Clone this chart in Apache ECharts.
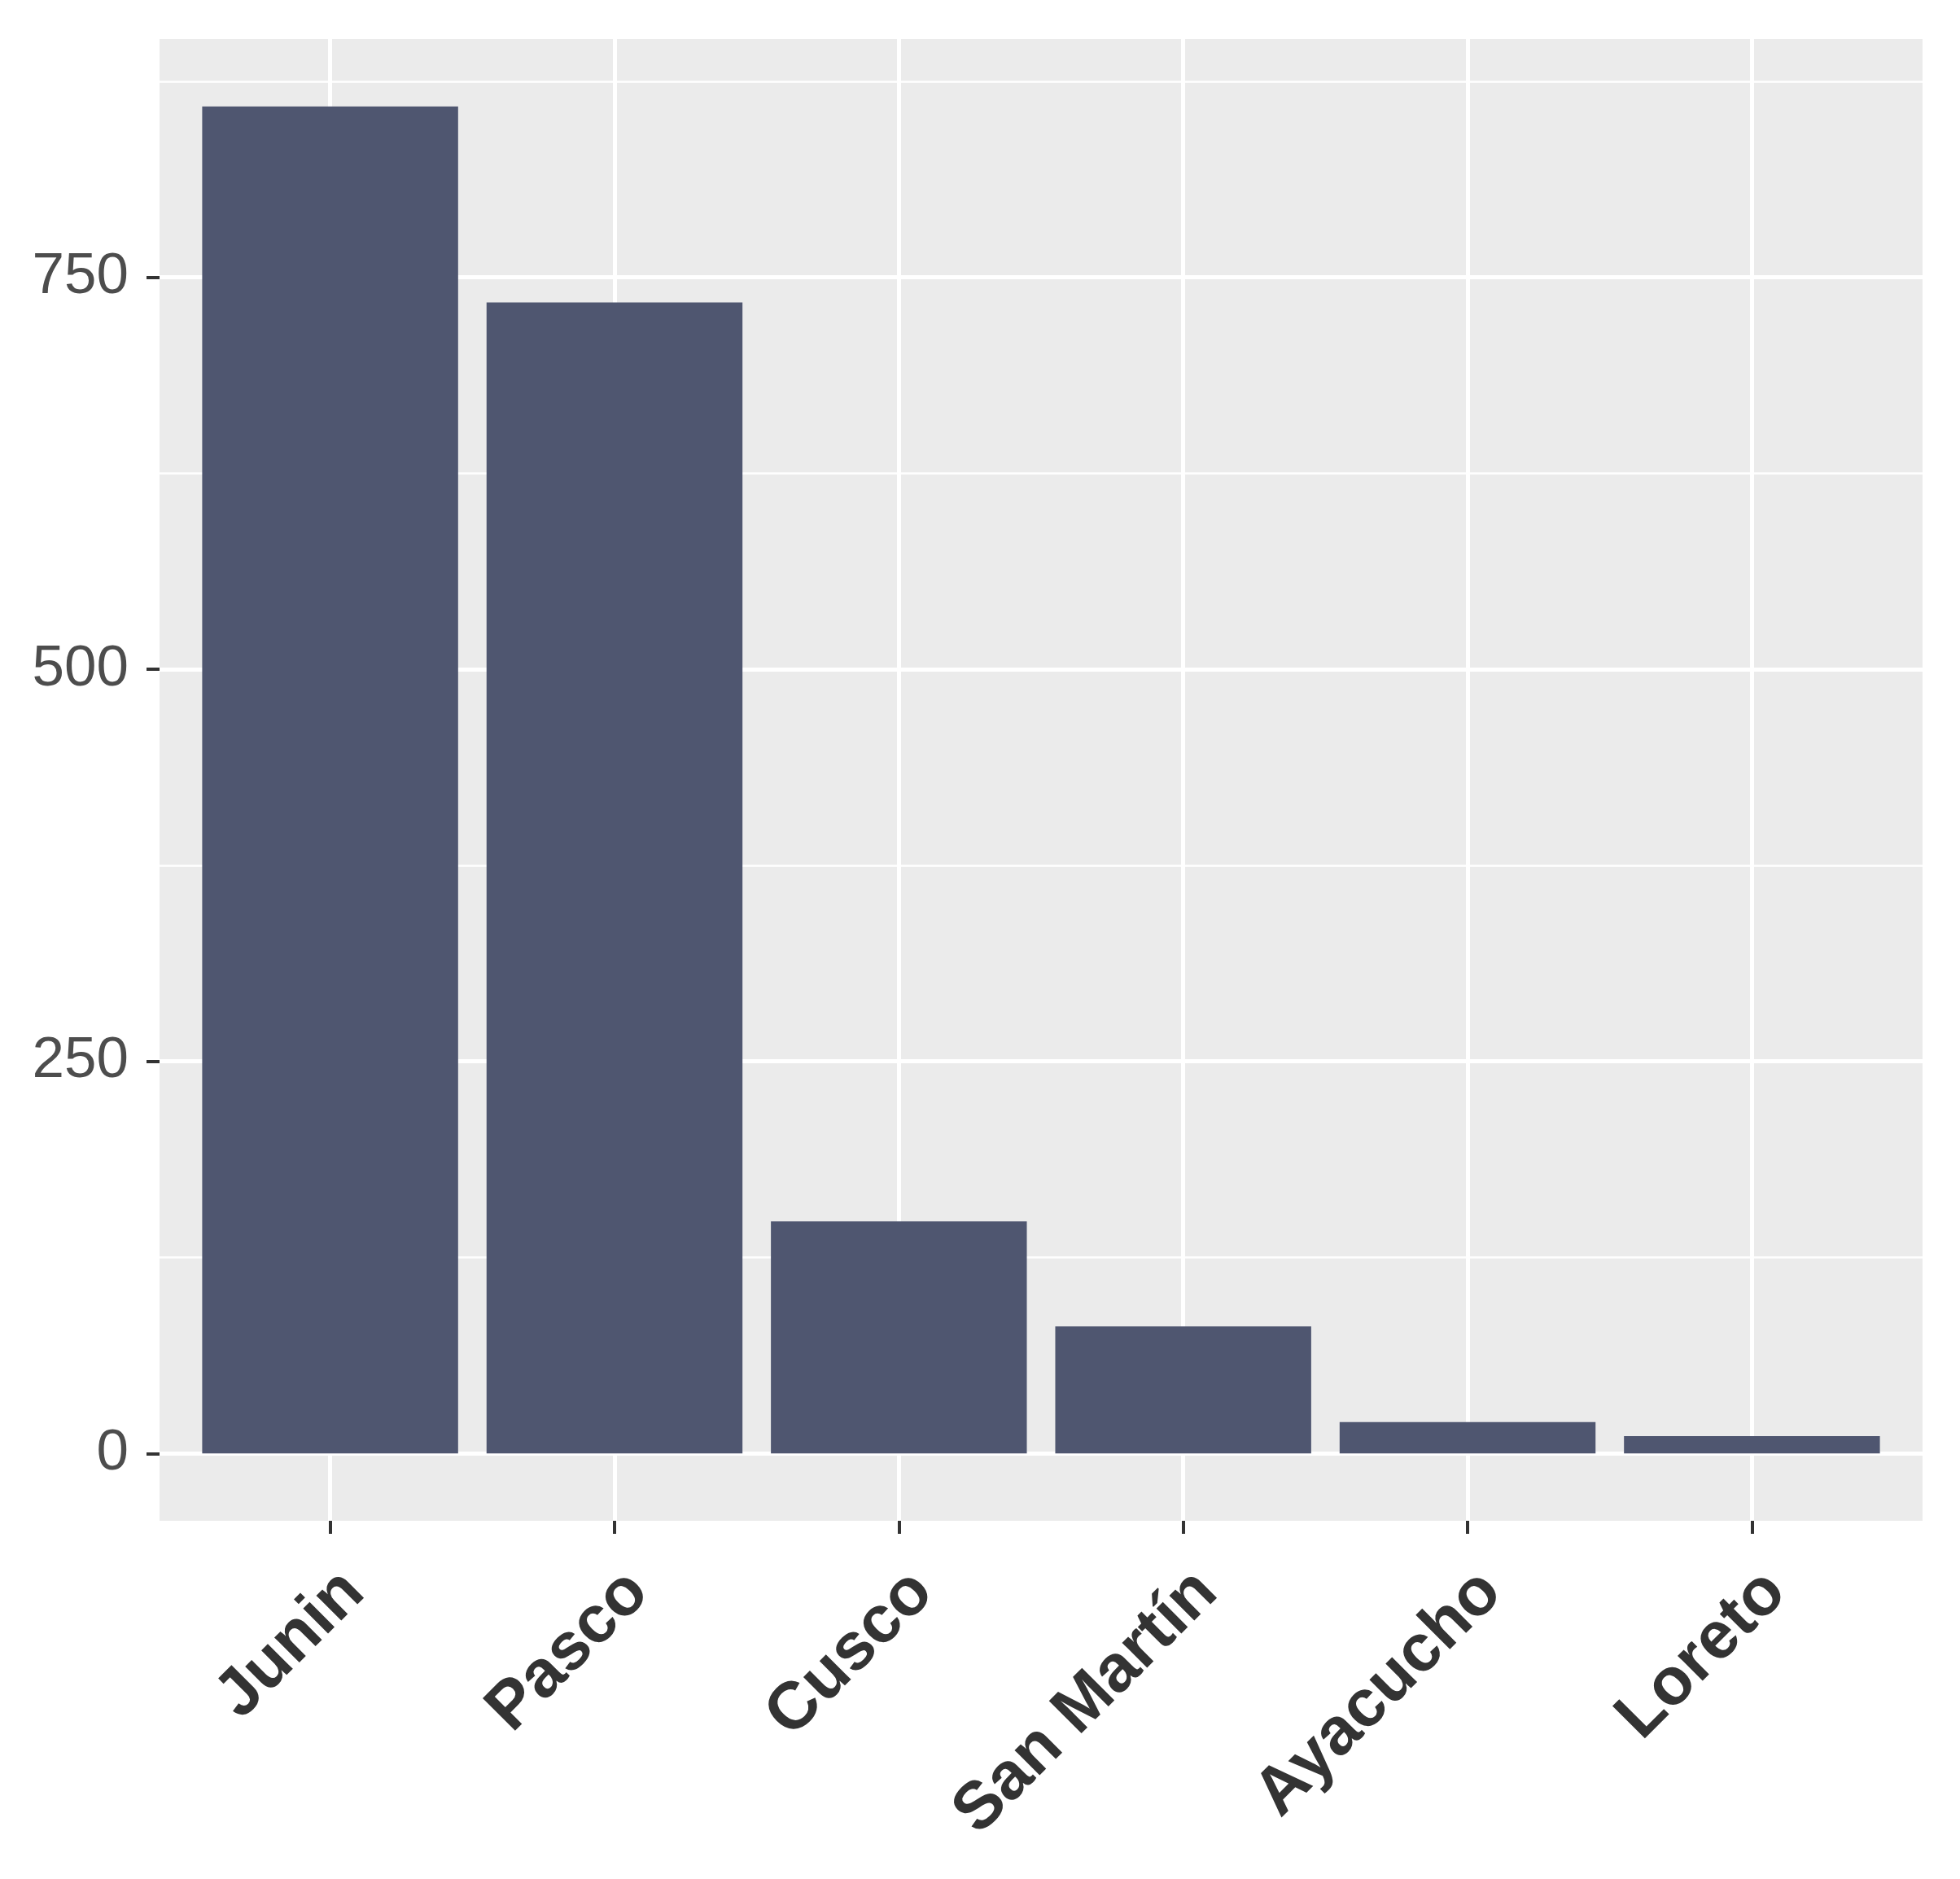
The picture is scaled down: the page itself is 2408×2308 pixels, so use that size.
<!DOCTYPE html>
<html>
<head>
<meta charset="utf-8">
<script src="https://cdn.jsdelivr.net/npm/echarts@6/dist/echarts.min.js"></script>
<style>
  html, body { margin: 0; padding: 0; background: #fff; }
  #main { width: 2408px; height: 2308px; }
</style>
</head>
<body>
<div id="main"></div>
<script>
// data
var regions = ['Junin', 'Pasco', 'Cusco', 'San Martín', 'Ayacucho', 'Loreto'];
var counts = [859, 734, 148, 81, 20, 11];
var majorTicks = [0, 250, 500, 750];
var minorTicks = [125, 375, 625, 875];

var positions = regions.map(function (r, i) { return i + 1; });
var maxCount = Math.max.apply(null, counts);
var pad = maxCount * 0.05;   // ggplot default expansion

var chart = echarts.init(document.getElementById('main'));

var option = {
    animation: false,
    backgroundColor: '#ffffff',
    grid: {
        left: 196, right: 46, top: 48, bottom: 440,
        show: true,
        backgroundColor: '#EBEBEB',
        borderWidth: 0
    },
    xAxis: {
        type: 'value',
        min: 0.4,
        max: regions.length + 0.6,
        axisLine: { show: false, onZero: false },
        axisTick: {
            customValues: positions,
            length: 16,
            lineStyle: { color: '#333333', width: 4 }
        },
        axisLabel: {
            customValues: positions,
            rotate: 45,
            align: 'right',
            verticalAlign: 'top',
            margin: 46,
            fontFamily: 'Liberation Sans',
            fontWeight: 'bold',
            fontSize: 82,
            color: '#333333',
            formatter: function (v) { return regions[Math.round(v) - 1]; }
        },
        splitLine: { show: true, lineStyle: { color: '#ffffff', width: 5 } }
    },
    yAxis: [{
        type: 'value',
        min: -pad,
        max: maxCount + pad,
        axisLine: { show: false, onZero: false },
        axisTick: {
            customValues: majorTicks,
            length: 16,
            lineStyle: { color: '#333333', width: 4 }
        },
        axisLabel: {
            customValues: majorTicks,
            margin: 38,
            fontFamily: 'Liberation Sans',
            fontSize: 71,
            color: '#4D4D4D'
        },
        splitLine: { show: true, lineStyle: { color: '#ffffff', width: 5 } }
    }, {
        type: 'value',
        position: 'left',
        min: -pad,
        max: maxCount + pad,
        axisLine: { show: false, onZero: false },
        axisTick: { show: false, customValues: minorTicks },
        axisLabel: { show: false, customValues: minorTicks },
        splitLine: { show: true, lineStyle: { color: '#ffffff', width: 2.5 } }
    }],
    series: [{
        type: 'bar',
        yAxisIndex: 0,
        barWidth: '90%',
        itemStyle: { color: '#4F5670' },
        data: positions.map(function (p, i) { return [p, counts[i]]; })
    }]
};

chart.setOption(option);
</script>
</body>
</html>
